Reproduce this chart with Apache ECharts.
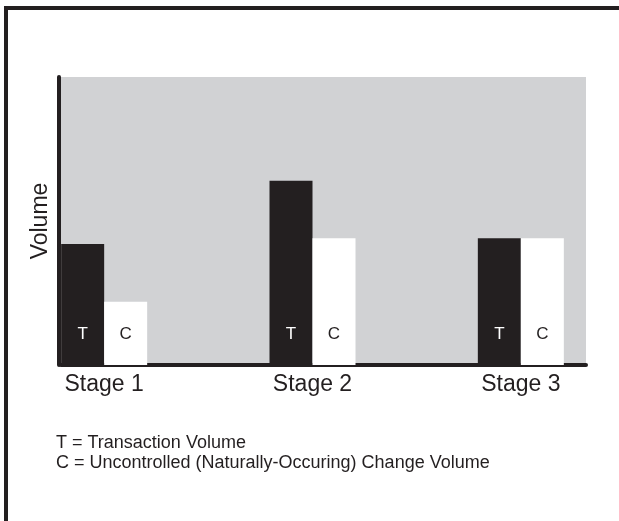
<!DOCTYPE html>
<html>
<head>
<meta charset="utf-8">
<script src="https://cdn.jsdelivr.net/npm/echarts@6/dist/echarts.min.js"></script>
<style>
  html, body { margin: 0; padding: 0; background: #fff; }
  #chart { width: 619px; height: 521px; }
</style>
</head>
<body>
<div id="chart"></div>
<script>
// data (relative volume, 0-100)
var stages = ['Stage 1', 'Stage 2', 'Stage 3'];
var transactionVol = [42, 64, 44];
var changeVol = [22, 44, 44];
var notes = ['T = Transaction Volume', 'C = Uncontrolled (Naturally-Occuring) Change Volume'];

var ink = '#231f20';
var font = 'Liberation Sans, Arial, sans-serif';
var myChart = echarts.init(document.getElementById('chart'), null, { renderer: 'canvas' });

var option = {
  backgroundColor: '#ffffff',
  animation: false,
  textStyle: { fontFamily: font },
  grid: [
    // gray plotting box with the axis lines
    { left: 61, right: 33, top: 77, bottom: 156, show: true, backgroundColor: '#d1d2d4', borderWidth: 0 },
    // wider grid just for placing the bar groups (runs a bit past the right edge)
    { left: 0, width: 625, top: 77, bottom: 156, outerBoundsMode: 'none', containLabel: false }
  ],
  xAxis: [
    {
      type: 'category', gridIndex: 0, data: stages, offset: 2,
      axisLine: { show: true, lineStyle: { color: ink, width: 4 } },
      axisTick: { show: false }, axisLabel: { show: false }, splitLine: { show: false }
    },
    {
      type: 'category', gridIndex: 1, data: stages,
      axisLine: { show: false }, axisTick: { show: false },
      axisLabel: { color: ink, fontSize: 23, margin: 8 }
    }
  ],
  yAxis: [
    {
      type: 'value', gridIndex: 0, min: 0, max: 100, offset: 2,
      name: 'Volume', nameLocation: 'middle', nameGap: 7,
      nameTextStyle: { color: ink, fontSize: 23 },
      axisLine: { show: true, lineStyle: { color: ink, width: 4 } },
      axisTick: { show: false }, axisLabel: { show: false }, splitLine: { show: false }
    },
    {
      type: 'value', gridIndex: 1, min: 0, max: 100, show: false
    }
  ],
  series: [
    {
      name: 'T', type: 'bar', xAxisIndex: 1, yAxisIndex: 1,
      data: transactionVol, barWidth: 43, barGap: 0,
      itemStyle: { color: ink },
      label: { show: true, position: 'insideBottom', distance: 22, formatter: 'T', color: '#ffffff', fontSize: 17 }
    },
    {
      name: 'C', type: 'bar', xAxisIndex: 1, yAxisIndex: 1,
      data: changeVol, barWidth: 43, barGap: 0,
      itemStyle: { color: '#ffffff' },
      label: { show: true, position: 'insideBottom', distance: 22, formatter: 'C', color: ink, fontSize: 17 }
    }
  ],
  graphic: [
    // frame
    { type: 'line', shape: { x1: 4, y1: 8, x2: 619, y2: 8 }, style: { stroke: ink, lineWidth: 4 } },
    { type: 'line', shape: { x1: 6, y1: 6, x2: 6, y2: 521 }, style: { stroke: ink, lineWidth: 4 } },
    // notes
    { type: 'text', left: 56, top: 434, style: { text: notes[0], fill: ink, fontSize: 18, fontFamily: font } },
    { type: 'text', left: 56, top: 454, style: { text: notes[1], fill: ink, fontSize: 18, fontFamily: font } }
  ]
};

myChart.setOption(option);
</script>
</body>
</html>
